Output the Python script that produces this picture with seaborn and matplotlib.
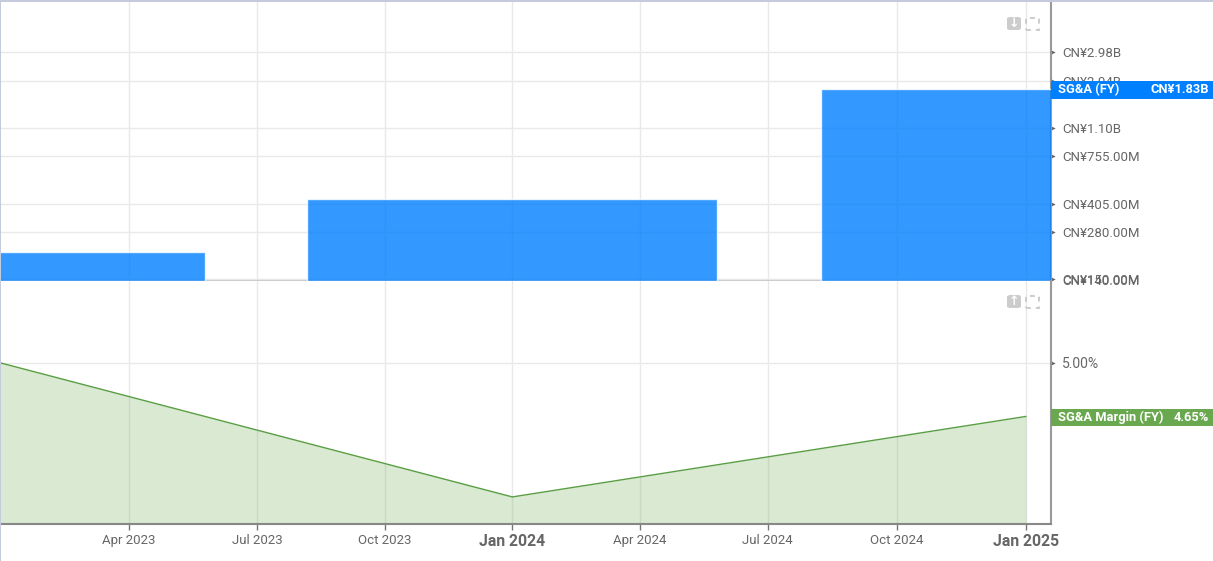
import matplotlib
matplotlib.use('Agg')
import matplotlib.pyplot as plt
import matplotlib.dates as mdates
from matplotlib.patches import Rectangle, FancyBboxPatch
from matplotlib.path import Path
from matplotlib.ticker import NullLocator
import pandas as pd
import seaborn as sns

W, H = 1213, 561

# data
fy_dates = ['2023-01-01', '2024-01-01', '2025-01-01']
sga_values = [213e6, 432e6, 1.83e9]
margin_values = [5.00, 4.17, 4.65]

sga_ticks = [150e6, 280e6, 405e6, 755e6, 1.10e9, 2.04e9, 2.98e9]
sga_tick_labels = ['CN¥150.00M', 'CN¥280.00M', 'CN¥405.00M', 'CN¥755.00M', 'CN¥1.10B', 'CN¥2.04B', 'CN¥2.98B']
margin_ticks = [5.00]
margin_tick_labels = ['5.00%']

x_tick_dates = ['2023-04-03', '2023-07-03', '2023-10-02', '2024-01-01', '2024-04-01', '2024-07-01', '2024-10-01', '2025-01-01']
x_tick_labels = ['Apr 2023', 'Jul 2023', 'Oct 2023', 'Jan 2024', 'Apr 2024', 'Jul 2024', 'Oct 2024', 'Jan 2025']

BLUE = '#007fff'
GREEN = '#6aa84f'
GRID = '#e9e9e9'
TEXT = '#666666'
SPINE = '#999999'
TOP_MIN = 146e6
LOW_MIN = 4.02

sns.set_theme(style='white')
plt.rcParams['font.family'] = ['Roboto', 'DejaVu Sans']


def fx(px):
    return px / W


def fy(px):
    return 1 - px / H


def tag(fig, ax, value, color, name, value_text):
    # coloured label on the right, centred on the value
    y = ax.transData.transform((0, value))[1] / fig.dpi / fig.get_figheight()
    y -= 1 / H
    h = 17.5 / H
    fig.add_artist(Rectangle((fx(1051), y - h / 2), 162 / W, h, transform=fig.transFigure, color=color, lw=0, zorder=5))
    fig.text(fx(1058), y, name, color='white', fontsize=9.3, fontweight='bold', va='center', ha='left', zorder=6)
    fig.text(fx(1209), y, value_text, color='white', fontsize=9.3, fontweight='bold', va='center', ha='right', zorder=6)


def icons(fig, top, symbol):
    # the two small chart buttons
    fig.add_artist(FancyBboxPatch((fx(1007), fy(top + 13)), 14 / W, 13 / H, boxstyle='round,pad=0,rounding_size=0.003',
                                  transform=fig.transFigure, fc='#cccccc', ec='none', zorder=4))
    fig.text(fx(1014), fy(top + 6.5), symbol, color='white', fontsize=9, fontweight='bold', ha='center', va='center',
             family='DejaVu Sans', zorder=5)
    fig.add_artist(Rectangle((fx(1026), fy(top + 12.5)), 12.5 / W, 12 / H, transform=fig.transFigure, fill=False,
                             ec='#cccccc', lw=1.4, ls=(0, (2.5, 2.5)), zorder=4))


fy_nums = mdates.date2num(pd.to_datetime(fy_dates))
x_ticks = mdates.date2num(pd.to_datetime(x_tick_dates))
x_start = fy_nums[0]
x_end = fy_nums[0] + 748.8

fig = plt.figure(figsize=(W / 100, H / 100), dpi=100)
ax_top = fig.add_axes([0, fy(281), fx(1051), (281 - 2) / H])
ax_low = fig.add_axes([0, fy(524), fx(1051), (524 - 281) / H], sharex=ax_top)

# SG&A bars
sns.barplot(x=fy_nums, y=sga_values, native_scale=True, log_scale=(False, True), width=0.8, color=BLUE,
            saturation=1, alpha=0.8, ax=ax_top, zorder=3)
# bars start at zero, which a log axis can't draw, so start them at the axis floor
for bar in ax_top.patches:
    top = bar.get_y() + bar.get_height()
    bar.set_y(TOP_MIN)
    bar.set_height(top - TOP_MIN)
ax_top.set_ylim(TOP_MIN, 5.75e9)
ax_top.set_yticks(sga_ticks)
ax_top.set_yticklabels(sga_tick_labels)
ax_top.yaxis.set_minor_locator(NullLocator())

# SG&A margin line and area
sns.lineplot(x=fy_nums, y=margin_values, color='#5a9e44', linewidth=1, ax=ax_low, zorder=3)
ax_low.set_yscale('log')
ax_low.set_ylim(LOW_MIN, 5.585)
ax_low.fill_between(fy_nums, margin_values, LOW_MIN, color=GREEN, alpha=0.25, lw=0, zorder=2)
ax_low.set_yticks(margin_ticks)
ax_low.set_yticklabels(margin_tick_labels)
ax_low.yaxis.set_minor_locator(NullLocator())
ax_low.yaxis.set_minor_formatter(plt.NullFormatter())

ax_low.set_xlim(x_start, x_end)
ax_low.set_xticks(x_ticks)
ax_low.set_xticklabels(x_tick_labels)
ax_low.set_xlabel('')

caret = Path([(0, -1), (2, 0), (0, 1), (0, -1)])
for ax in (ax_top, ax_low):
    ax.set_facecolor('white')
    ax.set_axisbelow(True)
    ax.grid(True, axis='both', color=GRID, lw=1)
    ax.yaxis.tick_right()
    ax.tick_params(axis='y', length=3, width=1, color='#666666', pad=5, labelsize=9.5, labelcolor=TEXT)
    for t in ax.yaxis.get_major_ticks():
        t.tick2line.set_marker(caret)
        t.tick2line.set_markersize(6)
        t.tick2line.set_markerfacecolor('#666666')
        t.tick2line.set_markeredgewidth(0)
    for side in ('top', 'left', 'bottom'):
        ax.spines[side].set_visible(False)
    ax.spines['right'].set_color(SPINE)
    ax.spines['right'].set_linewidth(1.5)

ax_low.tick_params(axis='y', labelsize=10)
ax_top.tick_params(axis='x', length=0, labelbottom=False)
ax_low.tick_params(axis='x', length=4, width=1, color='#777777', pad=3, labelsize=9.5, labelcolor=TEXT, bottom=True)
for lab in ax_low.get_xticklabels():
    if lab.get_text().startswith('Jan'):
        lab.set_fontweight('bold')
        lab.set_fontsize(11.3)
ax_low.spines['bottom'].set_visible(True)
ax_low.spines['bottom'].set_color('#888888')
ax_low.spines['bottom'].set_linewidth(1.5)

# divider and outer frame
ax_top.spines['bottom'].set_visible(True)
ax_top.spines['bottom'].set_color('#cccccc')
ax_top.spines['bottom'].set_linewidth(1.5)
fig.add_artist(Rectangle((0, fy(2)), 1, 2 / H, transform=fig.transFigure, color='#c5cbdc', lw=0))
fig.add_artist(Rectangle((0, 0), 1.2 / W, 1, transform=fig.transFigure, color='#c5cbdc', lw=0))

# bottom of the top scale, two labels overlap here
ax_top.annotate('CN¥140.00M', xy=(1, 0), xycoords='axes fraction', xytext=(8, -0.7), textcoords='offset points',
                color=TEXT, fontsize=9.5, va='center', ha='left', annotation_clip=False)

tag(fig, ax_top, sga_values[-1], BLUE, 'SG&A (FY)', 'CN¥1.83B')
tag(fig, ax_low, margin_values[-1], GREEN, 'SG&A Margin (FY)', '4.65%')
icons(fig, 17, '↓')
icons(fig, 295, '↑')

fig.savefig('out.png', dpi=100, facecolor='white')
